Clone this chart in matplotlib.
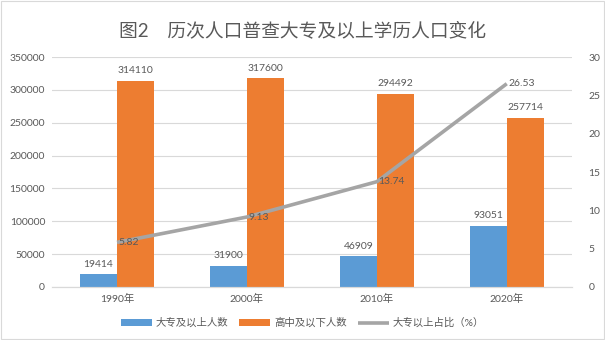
import matplotlib
matplotlib.use("Agg")
import matplotlib.pyplot as plt
from matplotlib.patches import Rectangle

plt.rcParams["font.family"] = ["Lato", "Noto Sans CJK SC", "DejaVu Sans"]

TEXT = "#595959"
GRID = "#D9D9D9"
BLUE = "#5B9BD5"
ORANGE = "#ED7D31"
GRAY = "#A5A5A5"

years = ["1990年", "2000年", "2010年", "2020年"]
higher = [19414, 31900, 46909, 93051]
lower = [314110, 317600, 294492, 257714]
share = [5.82, 9.13, 13.74, 26.53]

legend_labels = ["大专及以上人数", "高中及以下人数", "大专以上占比（%）"]
title = "图2　历次人口普查大专及以上学历人口变化"

fig = plt.figure(figsize=(6.05, 3.4), dpi=100)
fig.patches.append(Rectangle((0.002, 0.003), 0.996, 0.994, transform=fig.transFigure,
                             fill=False, edgecolor=GRID, linewidth=0.8))
ax = fig.add_axes([0.086, 0.156, 0.859, 0.676])
ax2 = ax.twinx()

x = list(range(len(years)))
w = 0.285
b1 = ax.bar([i - w / 2 for i in x], higher, w, color=BLUE, label=legend_labels[0], zorder=2)
b2 = ax.bar([i + w / 2 for i in x], lower, w, color=ORANGE, label=legend_labels[1], zorder=2)
for bars, vals in ((b1, higher), (b2, lower)):
    for r, v in zip(bars, vals):
        ax.annotate(str(v), (r.get_x() + r.get_width() / 2, v), xytext=(0, 4),
                    textcoords="offset points", ha="center", va="bottom",
                    fontsize=7.5, color=TEXT)

ln, = ax2.plot(x, share, color=GRAY, linewidth=2.6, label=legend_labels[2],
               solid_capstyle="butt", zorder=3)
for i, v in zip(x, share):
    ax2.annotate(f"{v:.2f}", (i, v), xytext=(1, 0), textcoords="offset points",
                 ha="left", va="center", fontsize=7.5, color=TEXT)

ax.set_xlim(-0.5, 3.5)
ax.set_ylim(0, 350000)
ax.set_yticks(range(0, 350001, 50000))
ax2.set_ylim(0, 30)
ax2.set_yticks(range(0, 31, 5))
ax.set_xticks(x)
ax.set_xticklabels(years)

ax.grid(axis="y", color=GRID, linewidth=0.8, zorder=0)
ax.set_axisbelow(True)
for a in (ax, ax2):
    for s in ("top", "left", "right"):
        a.spines[s].set_visible(False)
    a.spines["bottom"].set_color(GRID)
    a.tick_params(length=0, labelsize=7.5, colors=TEXT)
ax.tick_params(axis="y", pad=5)
ax2.tick_params(axis="y", pad=12)
ax.tick_params(axis="x", pad=5)

fig.text(0.5, 0.912, title, ha="center", va="center", fontsize=13.5, color=TEXT)
fig.legend([b1, b2, ln], legend_labels, loc="center", bbox_to_anchor=(0.5, 0.05),
           ncol=3, frameon=False, fontsize=7.5, labelcolor=TEXT,
           handlelength=3.0, handleheight=0.6, columnspacing=1.0, handletextpad=0.4)

fig.savefig("out.png", dpi=100, facecolor="white")
